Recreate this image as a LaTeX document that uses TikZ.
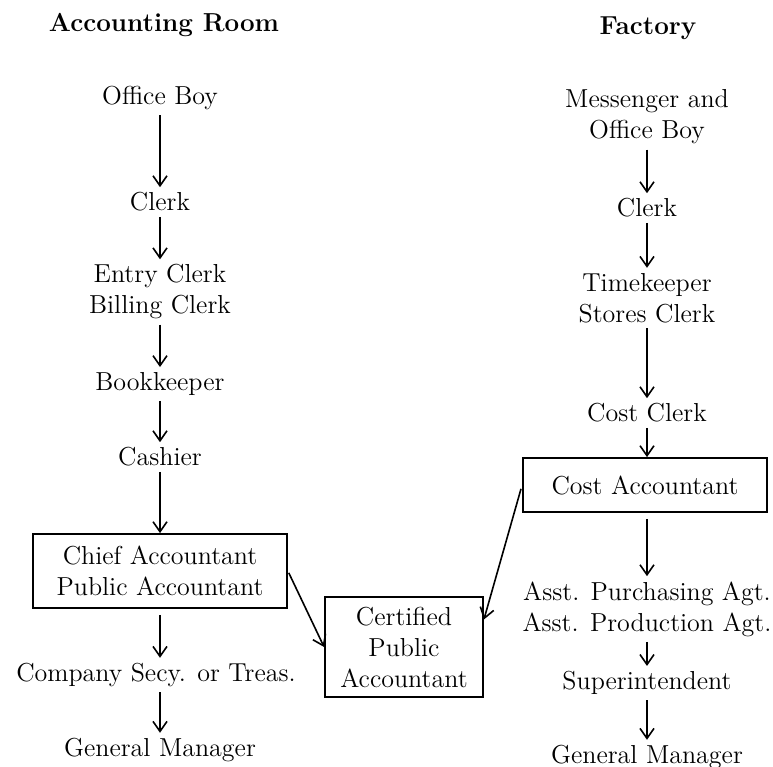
\documentclass[tikz,border=0pt]{standalone}
\usetikzlibrary{arrows.meta}
\begin{document}
\begin{tikzpicture}
    [x=0.5pt,y=-0.5pt,
    every node/.style={font=\fontsize{13}{15.5}\selectfont,align=center},
    title/.style={font=\fontsize{13}{15.5}\selectfont\bfseries},
    job/.style={inner sep=2.5pt},
    office/.style={draw,line width=0.9pt,inner sep=0pt},
    promote/.style={-{Straight Barb[length=5pt,width=7pt]},line width=0.8pt}]
    \useasboundingbox (0,0) rectangle (773,767);
    % accounting room
    \node[title] (accounting) at (164,25) {Accounting Room};
    \node[job] (office boy) at (160,98) {Office Boy};
    \node[job] (clerk) at (160,202) {Clerk};
    \node[job] (entry clerk) at (160,292) {Entry Clerk\\Billing Clerk};
    \node[job] (bookkeeper) at (160,384) {Bookkeeper};
    \node[job] (cashier) at (160,457) {Cashier};
    \node[office,minimum width=127pt,minimum height=37pt] (chief) at (160,571)
        {Chief Accountant\\Public Accountant};
    \node[job] (secretary) at (156,675) {Company Secy. or Treas.};
    \node[job] (manager) at (160,750) {General Manager};
    % factory
    \node[title] (factory) at (648,28) {Factory};
    \node[job] (messenger) at (647,117) {Messenger and\\Office Boy};
    \node[job] (factory clerk) at (647,208) {Clerk};
    \node[job] (timekeeper) at (647,298) {Timekeeper\\Stores Clerk};
    \node[job] (cost clerk) at (647,413) {Cost Clerk};
    \node[office,minimum width=122pt,minimum height=27pt] (cost accountant) at (645,485)
        {Cost Accountant};
    \node[job] (assistant) at (647,609) {Asst. Purchasing Agt.\\Asst. Production Agt.};
    \node[job] (superintendent) at (647,683) {Superintendent};
    \node[job] (factory manager) at (647,757) {General Manager};
    % both lead here
    \node[office,minimum width=79pt,minimum height=50pt] (certified) at (404,647)
        {Certified\\Public\\Accountant};

    \draw[promote] (office boy) -- (clerk);
    \draw[promote] (clerk) -- (entry clerk);
    \draw[promote] (entry clerk) -- (bookkeeper);
    \draw[promote] (bookkeeper) -- (cashier);
    \draw[promote] (cashier) -- (chief);
    \draw[promote,shorten <=3pt] (chief.south -| manager) -- (manager |- secretary.north);
    \draw[promote] (manager |- secretary.south) -- (manager);
    \draw[promote] (messenger) -- (factory clerk);
    \draw[promote] (factory clerk) -- (timekeeper);
    \draw[promote] (timekeeper) -- (cost clerk);
    \draw[promote] (cost clerk) -- (cost clerk |- cost accountant.north);
    \draw[promote,shorten <=3pt] (cost clerk |- cost accountant.south) -- (assistant);
    \draw[promote] (assistant) -- (superintendent);
    \draw[promote] (superintendent) -- (factory manager);
    \draw[promote,shorten <=1pt] (chief.east) -- (certified.west);
    \draw[promote,shorten <=2pt] (cost accountant.west) -- (certified.19);
\end{tikzpicture}
\end{document}
